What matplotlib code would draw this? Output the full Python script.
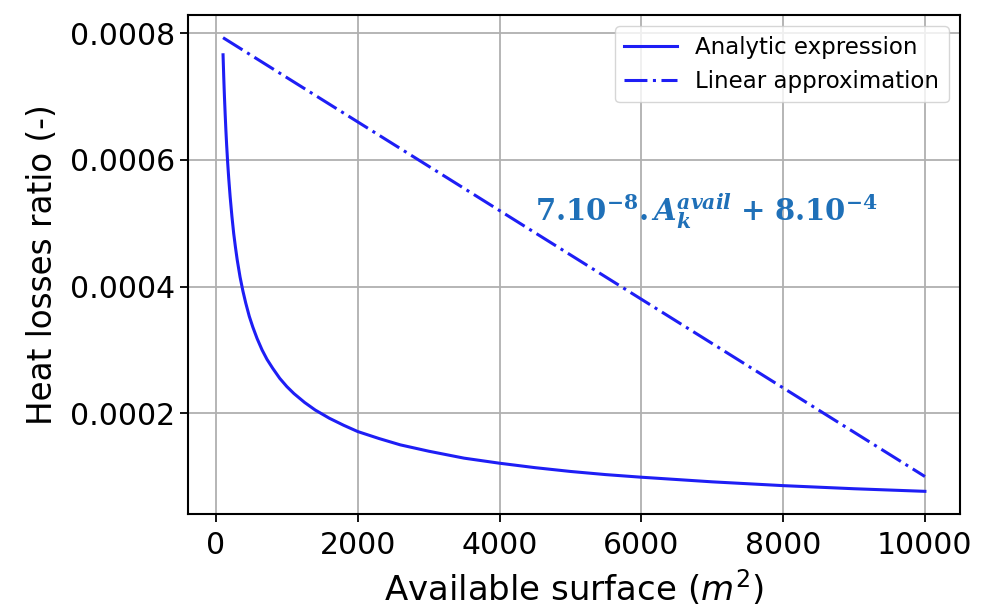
import numpy as np
import matplotlib
matplotlib.use('Agg')
import matplotlib.pyplot as plt

# available surface (m2) and heat losses ratio from the analytic expression
surface = [100, 105, 110, 115, 120, 130, 140, 150, 165, 180, 200, 225, 250,
           275, 300, 340, 380, 420, 470, 520, 580, 650, 720, 800, 900, 1000,
           1100, 1250, 1400, 1600, 1800, 2000, 2300, 2600, 3000, 3500, 4000,
           4500, 5000, 5500, 6000, 7000, 8000, 9000, 10000]
ratio_analytic = [0.000766, 0.000748, 0.000730, 0.000714, 0.000699, 0.000672,
                  0.000647, 0.000625, 0.000596, 0.000571, 0.000542, 0.000511,
                  0.000484, 0.000462, 0.000442, 0.000415, 0.000393, 0.000374,
                  0.000353, 0.000336, 0.000318, 0.000300, 0.000285, 0.000271,
                  0.000255, 0.000242, 0.000231, 0.000217, 0.000205, 0.000192,
                  0.000181, 0.000171, 0.000160, 0.000150, 0.000140, 0.000129,
                  0.000121, 0.000114, 0.000108, 0.000103, 0.0000989, 0.0000916,
                  0.0000856, 0.0000807, 0.0000766]

# linear approximation, end points
surface_lin = [100, 10000]
ratio_lin = [0.000793, 0.000100]

xticks = [0, 2000, 4000, 6000, 8000, 10000]
yticks = [0.0002, 0.0004, 0.0006, 0.0008]

fig = plt.figure(figsize=(9.82, 6.15), dpi=100)
ax = fig.add_axes([0.1914, 0.1642, 0.7862, 0.8114])

ax.plot(surface, ratio_analytic, color='#1e1ef5', lw=2.2, label='Analytic expression')
ax.plot(surface_lin, ratio_lin, color='#1e1ef5', lw=2.2, linestyle=(0, (7.5, 1.8, 1, 1.8)),
        label='Linear approximation')

ax.text(4500, 0.000504,
        r'$\mathbf{7.10^{-8}.}\mathbfit{A_k^{avail}}\ \mathbf{+\ 8.10^{-4}}$',
        color='#1f70b8', fontsize=21, math_fontfamily='dejavuserif', va='baseline')

ax.set_xticks(xticks)
ax.set_yticks(yticks)
ax.tick_params(labelsize=21.5, width=1.3, length=6)
ax.tick_params(axis='x', pad=6)
ax.grid(True, color='#b0b0b0', lw=1.3)
for s in ax.spines.values():
    s.set_linewidth(1.5)

ax.set_xlabel('Available surface ($m^2$)', fontsize=24.5, labelpad=6)
ax.set_ylabel('Heat losses ratio (-)', fontsize=23.5, labelpad=8)
ax.legend(loc='upper right', fontsize=16.5, handlelength=2.3)

fig.savefig('out.png', dpi=100)
